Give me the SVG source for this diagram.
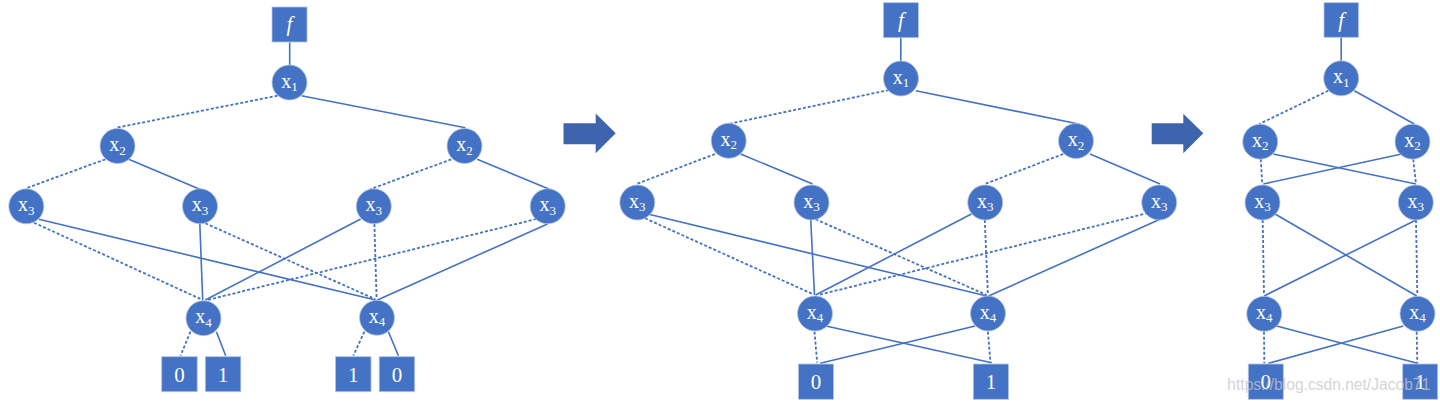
<svg xmlns="http://www.w3.org/2000/svg" width="1440" height="403" viewBox="0 0 1440 403">
<style>
.n{fill:#4472C4;stroke:#B4C5E6;stroke-width:0.8}
.b{fill:#4472C4;stroke:#B4C5E6;stroke-width:0.8}
.s{stroke:#4472C4;stroke-width:1.6;fill:none}
.d{stroke-dasharray:3 2;stroke-width:1.8}
.t{font-family:"Liberation Serif","Times New Roman",serif;fill:#fff;font-size:20px;text-anchor:middle}
.t tspan{font-size:13px}
.dg{font-family:"Liberation Serif","Times New Roman",serif;fill:#fff;font-size:21px;text-anchor:middle}
.fi{font-family:"Liberation Serif","Times New Roman",serif;fill:#fff;font-size:21px;font-style:italic;text-anchor:middle}
.ar{fill:#3E64AD}
.wm{font-family:"Liberation Sans",Arial,sans-serif;font-size:15.6px;fill:#c8c8c8;opacity:0.75}
</style>
<rect width="1440" height="403" fill="#fff"/>
<g id="connectors">
<line class="s" x1="289.7" y1="42.3" x2="289.7" y2="65"/>
<line class="s d" x1="277.5" y1="95.7" x2="116.5" y2="127.7"/>
<line class="s" x1="301.5" y1="95.7" x2="465.4" y2="127.7"/>
<line class="s d" x1="105.4" y1="159.3" x2="25.9" y2="188.3"/>
<line class="s" x1="128.7" y1="159.3" x2="201.6" y2="190"/>
<line class="s d" x1="451.3" y1="159.3" x2="370" y2="189.3"/>
<line class="s" x1="477.2" y1="159.3" x2="551.2" y2="190"/>
<line class="s" x1="38.8" y1="219.3" x2="375.5" y2="300"/>
<line class="s d" x1="34" y1="222.7" x2="202.7" y2="300"/>
<line class="s" x1="199.8" y1="223.3" x2="202.7" y2="300"/>
<line class="s d" x1="205.3" y1="223.3" x2="375.5" y2="299.3"/>
<line class="s" x1="360.7" y1="219" x2="205.3" y2="300"/>
<line class="s d" x1="374.4" y1="224" x2="376.6" y2="299.3"/>
<line class="s d" x1="536.4" y1="219" x2="207.2" y2="300"/>
<line class="s" x1="547.5" y1="224" x2="377.4" y2="300"/>
<line class="s d" x1="190.5" y1="331.7" x2="180.5" y2="355.7"/>
<line class="s" x1="216.4" y1="331.7" x2="225.7" y2="355.7"/>
<line class="s d" x1="364.4" y1="331.7" x2="353.3" y2="355.7"/>
<line class="s" x1="388.4" y1="331.7" x2="398.4" y2="355.7"/>
<line class="s" x1="900.8" y1="37.3" x2="900.8" y2="61"/>
<line class="s d" x1="889" y1="90" x2="728.4" y2="124"/>
<line class="s" x1="915.9" y1="90.7" x2="1078.6" y2="124"/>
<line class="s d" x1="715" y1="154" x2="636.5" y2="184"/>
<line class="s" x1="740.6" y1="154" x2="812.6" y2="184"/>
<line class="s d" x1="1063.2" y1="154" x2="984.8" y2="184"/>
<line class="s" x1="1090" y1="154" x2="1160" y2="184"/>
<line class="s" x1="648.8" y1="214.3" x2="986.7" y2="296"/>
<line class="s d" x1="645" y1="218.3" x2="812.6" y2="294"/>
<line class="s" x1="810.7" y1="219.3" x2="814.5" y2="295"/>
<line class="s d" x1="815.6" y1="219.3" x2="986.7" y2="295"/>
<line class="s" x1="971.4" y1="214" x2="815.6" y2="295"/>
<line class="s d" x1="984.8" y1="220" x2="987.9" y2="295"/>
<line class="s d" x1="1148" y1="213" x2="818.3" y2="295"/>
<line class="s" x1="1160" y1="219.3" x2="988.6" y2="296"/>
<line class="s d" x1="814.5" y1="331.7" x2="817.2" y2="362.7"/>
<line class="s" x1="826" y1="326" x2="991.7" y2="362.7"/>
<line class="s" x1="975.2" y1="326" x2="820.2" y2="363.3"/>
<line class="s d" x1="987.9" y1="331.7" x2="990.5" y2="362.7"/>
<line class="s" x1="1341.2" y1="37.3" x2="1341.2" y2="61"/>
<line class="s d" x1="1328.3" y1="90.7" x2="1259.3" y2="124"/>
<line class="s" x1="1354.3" y1="90.7" x2="1414.3" y2="124"/>
<line class="s d" x1="1260.7" y1="159.3" x2="1262.3" y2="184"/>
<line class="s" x1="1273.3" y1="154" x2="1416" y2="184"/>
<line class="s" x1="1401.7" y1="154" x2="1263.3" y2="184"/>
<line class="s d" x1="1413.3" y1="159.3" x2="1416" y2="184"/>
<line class="s d" x1="1262.7" y1="220" x2="1264" y2="295"/>
<line class="s" x1="1275" y1="214" x2="1416.7" y2="296"/>
<line class="s" x1="1416" y1="220" x2="1264" y2="296"/>
<line class="s d" x1="1416" y1="220" x2="1417.3" y2="295"/>
<line class="s d" x1="1264" y1="331.7" x2="1264.3" y2="363.3"/>
<line class="s" x1="1276.7" y1="326" x2="1417.3" y2="363.3"/>
<line class="s" x1="1403.3" y1="326" x2="1268.3" y2="363.3"/>
<line class="s d" x1="1416.7" y1="331.7" x2="1417.3" y2="363.3"/>
</g>
<g id="arrows">
<polygon class="ar" points="563.5,123.3 595.7,123.3 595.7,113.5 615.7,133.3 595.7,153.3 595.7,144.2 563.5,144.2"/>
<polygon class="ar" points="1151.7,123.3 1183.3,123.3 1183.3,113.8 1203.3,133.3 1183.3,153.3 1183.3,144.2 1151.7,144.2"/>
</g>
<g id="L-f"><rect class="b" x="272" y="7" width="35" height="35"/><text class="fi" x="289.5" y="31">f</text></g>
<g id="L-x1"><circle class="n" cx="289.5" cy="82.5" r="17.5"/><text class="t" x="289.5" y="87.5">x<tspan dy="3.5">1</tspan></text></g>
<g id="L-x2a"><circle class="n" cx="117.5" cy="146" r="17.5"/><text class="t" x="117.5" y="151">x<tspan dy="3.5">2</tspan></text></g>
<g id="L-x2b"><circle class="n" cx="464.5" cy="146" r="17.5"/><text class="t" x="464.5" y="151">x<tspan dy="3.5">2</tspan></text></g>
<g id="L-x3a"><circle class="n" cx="26.3" cy="206.3" r="17.5"/><text class="t" x="26.3" y="211.3">x<tspan dy="3.5">3</tspan></text></g>
<g id="L-x3b"><circle class="n" cx="200" cy="206.3" r="17.5"/><text class="t" x="200" y="211.3">x<tspan dy="3.5">3</tspan></text></g>
<g id="L-x3c"><circle class="n" cx="373.8" cy="206.3" r="17.5"/><text class="t" x="373.8" y="211.3">x<tspan dy="3.5">3</tspan></text></g>
<g id="L-x3d"><circle class="n" cx="547.7" cy="206.3" r="17.5"/><text class="t" x="547.7" y="211.3">x<tspan dy="3.5">3</tspan></text></g>
<g id="L-x4a"><circle class="n" cx="203.5" cy="318.2" r="17.5"/><text class="t" x="203.5" y="323.2">x<tspan dy="3.5">4</tspan></text></g>
<g id="L-x4b"><circle class="n" cx="377" cy="317.8" r="17.5"/><text class="t" x="377" y="322.8">x<tspan dy="3.5">4</tspan></text></g>
<g id="L-t0a"><rect class="b" x="161.7" y="356.7" width="35.5" height="35"/><text class="dg" x="179.4" y="381.5">0</text></g>
<g id="L-t1a"><rect class="b" x="205.3" y="356.7" width="35.5" height="35"/><text class="dg" x="223" y="381.5">1</text></g>
<g id="L-t1b"><rect class="b" x="335.5" y="356.7" width="35.5" height="35"/><text class="dg" x="353.2" y="381.5">1</text></g>
<g id="L-t0b"><rect class="b" x="379.2" y="356.7" width="35.5" height="35"/><text class="dg" x="397" y="381.5">0</text></g>
<g id="M-f"><rect class="b" x="883.4" y="2.7" width="35" height="35"/><text class="fi" x="900.9" y="27">f</text></g>
<g id="M-x1"><circle class="n" cx="901" cy="78.5" r="17.5"/><text class="t" x="901" y="83.5">x<tspan dy="3.5">1</tspan></text></g>
<g id="M-x2a"><circle class="n" cx="728.7" cy="140.8" r="17.5"/><text class="t" x="728.7" y="145.8">x<tspan dy="3.5">2</tspan></text></g>
<g id="M-x2b"><circle class="n" cx="1076" cy="141" r="17.5"/><text class="t" x="1076" y="146">x<tspan dy="3.5">2</tspan></text></g>
<g id="M-x3a"><circle class="n" cx="637.3" cy="202.5" r="17.5"/><text class="t" x="637.3" y="207.5">x<tspan dy="3.5">3</tspan></text></g>
<g id="M-x3b"><circle class="n" cx="811.5" cy="202.5" r="17.5"/><text class="t" x="811.5" y="207.5">x<tspan dy="3.5">3</tspan></text></g>
<g id="M-x3c"><circle class="n" cx="985.2" cy="202.5" r="17.5"/><text class="t" x="985.2" y="207.5">x<tspan dy="3.5">3</tspan></text></g>
<g id="M-x3d"><circle class="n" cx="1159.2" cy="202.5" r="17.5"/><text class="t" x="1159.2" y="207.5">x<tspan dy="3.5">3</tspan></text></g>
<g id="M-x4a"><circle class="n" cx="815" cy="313.5" r="17.5"/><text class="t" x="815" y="318.5">x<tspan dy="3.5">4</tspan></text></g>
<g id="M-x4b"><circle class="n" cx="988" cy="313.5" r="17.5"/><text class="t" x="988" y="318.5">x<tspan dy="3.5">4</tspan></text></g>
<g id="M-t0"><rect class="b" x="798.4" y="364" width="35.2" height="35.3"/><text class="dg" x="816" y="389">0</text></g>
<g id="M-t1"><rect class="b" x="973.3" y="364" width="35.2" height="35.3"/><text class="dg" x="990.9" y="389">1</text></g>
<g id="R-f"><rect class="b" x="1324" y="2.7" width="34.5" height="34.6"/><text class="fi" x="1341.2" y="27">f</text></g>
<g id="R-x1"><circle class="n" cx="1341.2" cy="78.3" r="17.5"/><text class="t" x="1341.2" y="83.3">x<tspan dy="3.5">1</tspan></text></g>
<g id="R-x2a"><circle class="n" cx="1260.2" cy="141.7" r="17.5"/><text class="t" x="1260.2" y="146.7">x<tspan dy="3.5">2</tspan></text></g>
<g id="R-x2b"><circle class="n" cx="1412.5" cy="141.7" r="17.5"/><text class="t" x="1412.5" y="146.7">x<tspan dy="3.5">2</tspan></text></g>
<g id="R-x3a"><circle class="n" cx="1262.5" cy="202.5" r="17.5"/><text class="t" x="1262.5" y="207.5">x<tspan dy="3.5">3</tspan></text></g>
<g id="R-x3b"><circle class="n" cx="1415.8" cy="202.5" r="17.5"/><text class="t" x="1415.8" y="207.5">x<tspan dy="3.5">3</tspan></text></g>
<g id="R-x4a"><circle class="n" cx="1264.2" cy="313.8" r="17.5"/><text class="t" x="1264.2" y="318.8">x<tspan dy="3.5">4</tspan></text></g>
<g id="R-x4b"><circle class="n" cx="1417.5" cy="313.8" r="17.5"/><text class="t" x="1417.5" y="318.8">x<tspan dy="3.5">4</tspan></text></g>
<g id="R-t0"><rect class="b" x="1248.3" y="364" width="35" height="35.3"/><text class="dg" x="1265.8" y="389">0</text></g>
<g id="R-t1"><rect class="b" x="1402.7" y="364" width="35" height="35.3"/><text class="dg" x="1420.2" y="389">1</text></g>
<text class="wm" x="1227.3" y="390">https://blog.csdn.net/Jacob71</text>
</svg>
